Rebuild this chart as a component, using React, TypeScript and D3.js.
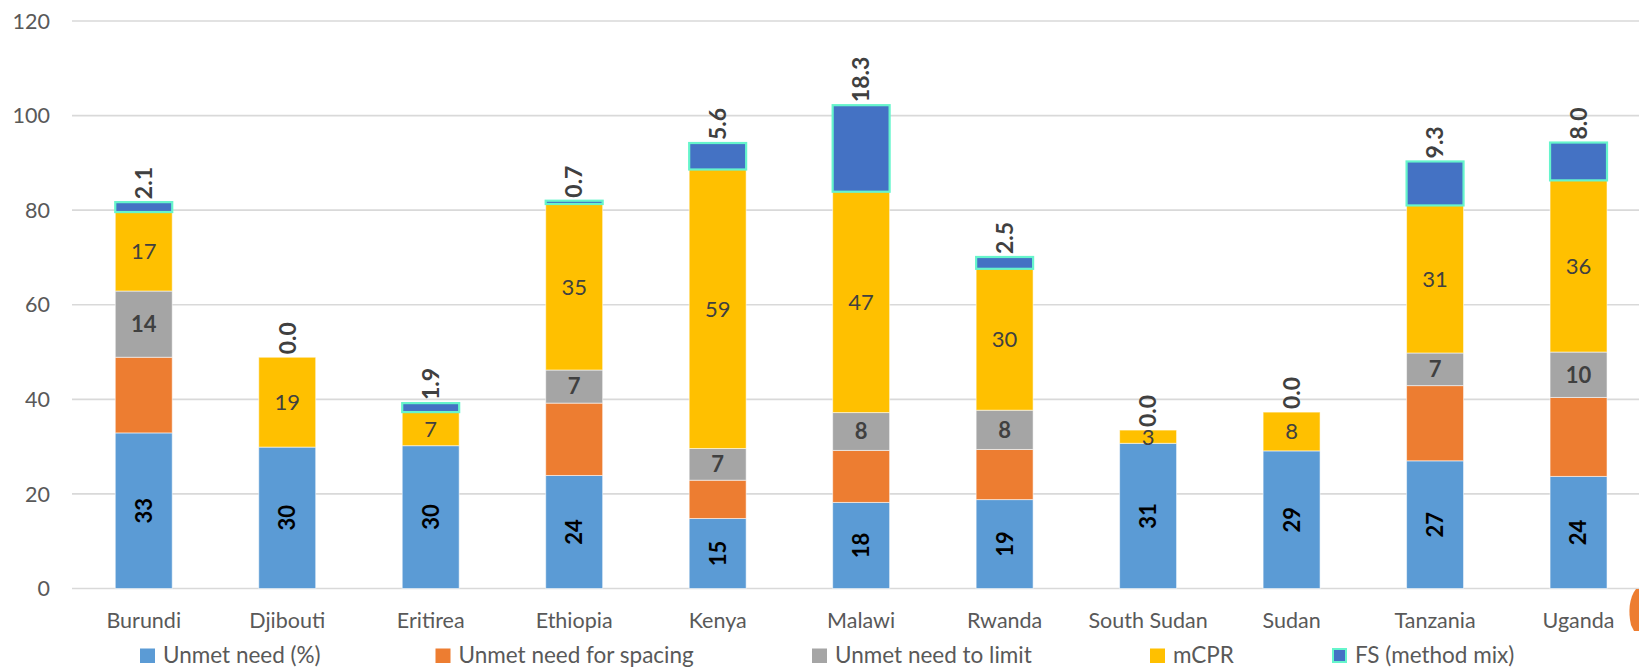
import React from "react";
import * as d3 from "d3";

const categories = ["Burundi", "Djibouti", "Eritirea", "Ethiopia", "Kenya", "Malawi", "Rwanda", "South Sudan", "Sudan", "Tanzania", "Uganda"];
const unmetNeed = [32.9, 29.9, 30.2, 23.9, 14.8, 18.2, 18.8, 30.7, 29.1, 27.0, 23.7];
const unmetSpacing = [16.0, 0, 0, 15.3, 8.1, 11.0, 10.6, 0, 0, 15.9, 16.7];
const unmetLimit = [14.0, 0, 0, 7.0, 6.7, 8.0, 8.3, 0, 0, 6.9, 9.6];
const mcpr = [16.7, 19.0, 7.1, 35.1, 59.0, 46.7, 29.9, 2.8, 8.2, 31.2, 36.3];
const fsMix = [2.1, 0.0, 1.9, 0.7, 5.6, 18.3, 2.5, 0.0, 0.0, 9.3, 8.0];
const seriesNames = ["Unmet need (%)", "Unmet need for spacing", "Unmet need to limit", "mCPR", "FS (method mix)"];
const seriesColors = ["#5B9BD5", "#ED7D31", "#A5A5A5", "#FFC000", "#4472C4"];
const yTicks = [0, 20, 40, 60, 80, 100, 120];

const W = 1639;
const H = 668;
const FONT = "Lato, 'Open Sans', sans-serif";
const FS_STROKE = "#66F5CC";

export default function App() {
  const keys = ["u", "s", "l", "m", "f"];
  const rows = categories.map((c, i) => ({
    cat: c,
    u: unmetNeed[i],
    s: unmetSpacing[i],
    l: unmetLimit[i],
    m: mcpr[i],
    f: fsMix[i],
  }));
  const stacked = d3.stack<any>().keys(keys)(rows);

  const x = d3
    .scaleBand<string>()
    .domain(categories)
    .range([72, 72 + 11 * 143.48])
    .paddingInner(0.603)
    .paddingOuter(0.3015);
  const y = d3.scaleLinear().domain([0, 120]).range([588.5, 21]);
  const bw = x.bandwidth();
  const f0 = d3.format(".0f");
  const f1 = d3.format(".1f");

  const legendX = [140, 435.5, 812, 1150, 1332];

  return (
    <svg
      width={W}
      height={H}
      style={{ position: "absolute", left: 0, top: 0, background: "#fff", overflow: "hidden" }}
      fontFamily={FONT}
    >
      {yTicks.map((t) => (
        <line key={"g" + t} x1={72} x2={W} y1={y(t)} y2={y(t)} stroke="#D9D9D9" strokeWidth={1.6} />
      ))}
      {yTicks.map((t) => (
        <text key={"yt" + t} x={50} y={y(t)} dy="0.36em" textAnchor="end" fontSize={21.5} fill="#595959">
          {t}
        </text>
      ))}
      {stacked.map((layer, si) =>
        layer.map((d, ci) => {
          const v = d[1] - d[0];
          if (v <= 0) return null;
          const x0 = x(categories[ci])!;
          const isFS = si === 4;
          return (
            <rect
              key={`b${si}-${ci}`}
              x={x0}
              y={y(d[1])}
              width={bw}
              height={y(d[0]) - y(d[1])}
              fill={seriesColors[si]}
              stroke={isFS ? FS_STROKE : "rgba(255,255,255,0.55)"}
              strokeWidth={isFS ? 2.2 : 1}
            />
          );
        })
      )}
      {stacked.map((layer, si) =>
        layer.map((d, ci) => {
          const v = d[1] - d[0];
          const cx = x(categories[ci])! + bw / 2;
          const cy = (y(d[0]) + y(d[1])) / 2;
          if (si === 0) {
            return (
              <text
                key={`l${si}-${ci}`}
                transform={`translate(${cx},${cy}) rotate(-90)`}
                textAnchor="middle"
                dy="0.36em"
                fontSize={22}
                fontWeight="bold"
                fill="#000"
              >
                {f0(v)}
              </text>
            );
          }
          if (si === 1) return null;
          if (si === 2 || si === 3) {
            if (v <= 0) return null;
            return (
              <text
                key={`l${si}-${ci}`}
                x={cx}
                y={cy}
                dy="0.36em"
                textAnchor="middle"
                fontSize={22}
                fontWeight={si === 2 ? "bold" : "normal"}
                fill="#404040"
              >
                {f0(v)}
              </text>
            );
          }
          const top = y(d[1]);
          return (
            <text
              key={`l${si}-${ci}`}
              transform={`translate(${cx},${top - 3}) rotate(-90)`}
              textAnchor="start"
              dy="0.36em"
              fontSize={23}
              fontWeight="bold"
              fill="#404040"
            >
              {f1(v)}
            </text>
          );
        })
      )}
      {categories.map((c) => (
        <text key={"xl" + c} x={x(c)! + bw / 2} y={628} textAnchor="middle" fontSize={21.5} fill="#595959">
          {c}
        </text>
      ))}
      {seriesNames.map((n, i) => (
        <g key={"lg" + i}>
          <rect
            x={legendX[i]}
            y={648.5}
            width={i === 4 ? 13 : 15}
            height={i === 4 ? 13 : 14.5}
            transform={i === 4 ? "translate(1,0.5)" : undefined}
            fill={seriesColors[i]}
            stroke={i === 4 ? FS_STROKE : "none"}
            strokeWidth={i === 4 ? 2 : 0}
          />
          <text x={legendX[i] + 23} y={662.5} fontSize={22.5} fill="#595959">
            {n}
          </text>
        </g>
      ))}
      <path d="M1636,589 C1629,598 1628,612 1631,625 L1634,631 L1639,631 L1639,589 Z" fill="#ED7D31" />
    </svg>
  );
}
